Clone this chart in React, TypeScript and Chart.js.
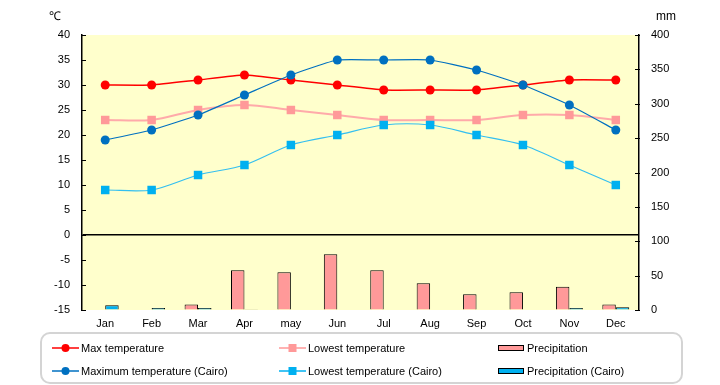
import React, { useEffect, useRef } from "react";
import { Chart, registerables } from "chart.js";

Chart.register(...registerables);

const months = ["Jan", "Feb", "Mar", "Apr", "may", "Jun", "Jul", "Aug", "Sep", "Oct", "Nov", "Dec"];
const maxTemp = [30, 30, 31, 32, 31, 30, 29, 29, 29, 30, 31, 31];
const lowTemp = [23, 23, 25, 26, 25, 24, 23, 23, 23, 24, 24, 23];
const cairoMax = [19, 21, 24, 28, 32, 35, 35, 35, 33, 30, 26, 21];
const cairoLow = [9, 9, 12, 14, 18, 20, 22, 22, 20, 18, 14, 10];
const precip = [0, 0, 8, 58, 55, 81, 58, 39, 23, 26, 34, 8];
const cairoPrecip = [7, 3, 3, 1, 0, 0, 0, 0, 0, 0, 3, 4];

const FONT = '"Liberation Sans", Arial, sans-serif';
const tickFont = { family: FONT, size: 11 };

const bgPlugin = {
  id: "bgPlugin",
  beforeDraw(chart: any) {
    const { ctx, chartArea } = chart;
    ctx.save();
    ctx.fillStyle = "#fff";
    ctx.fillRect(0, 0, chart.width, chart.height);
    ctx.fillStyle = "#FFFFCC";
    ctx.fillRect(chartArea.left, chartArea.top, chartArea.right - chartArea.left, chartArea.bottom - chartArea.top);
    ctx.restore();
  },
  afterDraw(chart: any) {
    const { ctx, chartArea, scales } = chart;
    ctx.save();
    ctx.strokeStyle = "#000";
    ctx.lineWidth = 1;
    const y = scales.y;
    y.ticks.forEach((t: any) => {
      const py = Math.round(y.getPixelForValue(t.value)) + 0.5;
      ctx.beginPath();
      ctx.moveTo(chartArea.left - 1, py);
      ctx.lineTo(chartArea.left + 4, py);
      ctx.stroke();
    });
    const y1 = scales.y1;
    y1.ticks.forEach((t: any) => {
      const py = Math.round(y1.getPixelForValue(t.value)) + 0.5;
      ctx.beginPath();
      ctx.moveTo(chartArea.right - 4, py);
      ctx.lineTo(chartArea.right + 1, py);
      ctx.stroke();
    });
    ctx.fillStyle = "#000";
    ctx.font = `12px ${FONT}`;
    ctx.textAlign = "center";
    ctx.textBaseline = "middle";
    ctx.fillText("℃", chartArea.left - 27, 17);
    ctx.fillText("mm", chartArea.right + 27, 17);
    ctx.restore();
  },
};

function LegendLine({ color, shape }: { color: string; shape: string }) {
  return (
    <svg width={27} height={12} style={{ display: "block" }}>
      <line x1={0} y1={6} x2={27} y2={6} stroke={color} strokeWidth={1.5} />
      {shape === "circle" ? (
        <circle cx={13.5} cy={6} r={4} fill={color} />
      ) : (
        <rect x={9.5} y={2} width={8} height={8} fill={color} />
      )}
    </svg>
  );
}

function LegendBar({ color }: { color: string }) {
  return (
    <svg width={27} height={12} style={{ display: "block" }}>
      <rect x={0.5} y={3.5} width={25} height={5} fill={color} stroke="#000" strokeWidth={1} />
    </svg>
  );
}

const legendItems = [
  { label: "Max temperature", kind: "line", color: "#FF0000", shape: "circle", x: 52, y: 348 },
  { label: "Lowest temperature", kind: "line", color: "#FF9999", shape: "rect", x: 279, y: 348 },
  { label: "Precipitation", kind: "bar", color: "#FF9999", shape: "", x: 498, y: 348 },
  { label: "Maximum temperature (Cairo)", kind: "line", color: "#0070C0", shape: "circle", x: 52, y: 371 },
  { label: "Lowest temperature (Cairo)", kind: "line", color: "#00B0F0", shape: "rect", x: 279, y: 371 },
  { label: "Precipitation (Cairo)", kind: "bar", color: "#00B0F0", shape: "", x: 498, y: 371 },
];

export default function App() {
  const ref = useRef<HTMLCanvasElement | null>(null);

  useEffect(() => {
    document.body.style.margin = "0";
    if (!ref.current) return;
    const chart = new Chart(ref.current, {
      type: "bar",
      data: {
        labels: months,
        datasets: [
          {
            type: "line",
            label: "Max temperature",
            data: maxTemp,
            yAxisID: "y",
            borderColor: "#FF0000",
            backgroundColor: "#FF0000",
            borderWidth: 1.5,
            pointBorderWidth: 0,
            pointStyle: "circle",
            pointRadius: 4.5,
            tension: 0.15,
            order: 2,
          },
          {
            type: "line",
            label: "Lowest temperature",
            data: lowTemp,
            yAxisID: "y",
            borderColor: "#FFAAAA",
            backgroundColor: "#FF9999",
            borderWidth: 2,
            pointBorderWidth: 0,
            pointStyle: "rect",
            pointRadius: 6,
            tension: 0.3,
            order: 4,
          },
          {
            type: "line",
            label: "Maximum temperature (Cairo)",
            data: cairoMax,
            yAxisID: "y",
            borderColor: "#0070C0",
            backgroundColor: "#0070C0",
            borderWidth: 1.2,
            pointBorderWidth: 0,
            pointStyle: "circle",
            pointRadius: 4.5,
            tension: 0.15,
            order: 1,
          },
          {
            type: "line",
            label: "Lowest temperature (Cairo)",
            data: cairoLow,
            yAxisID: "y",
            borderColor: "#33BFF0",
            backgroundColor: "#00B0F0",
            borderWidth: 1.2,
            pointBorderWidth: 0,
            pointStyle: "rect",
            pointRadius: 6,
            tension: 0.3,
            order: 3,
          },
          {
            type: "bar",
            label: "Precipitation",
            data: precip,
            yAxisID: "y1",
            backgroundColor: "#FF9999",
            borderColor: "#000",
            borderWidth: 1,
            barPercentage: 1,
            categoryPercentage: 0.58,
            order: 10,
          },
          {
            type: "bar",
            label: "Precipitation (Cairo)",
            data: cairoPrecip,
            yAxisID: "y1",
            backgroundColor: "#00B0F0",
            borderColor: "#000",
            borderWidth: 1,
            barPercentage: 1,
            categoryPercentage: 0.58,
            order: 11,
          },
        ] as any,
      },
      options: {
        responsive: false,
        animation: false,
        layout: { padding: { left: 0, right: 0, top: 35, bottom: 0 } },
        plugins: { legend: { display: false }, tooltip: { enabled: false } },
        scales: {
          x: {
            grid: { display: false, drawTicks: false },
            border: { display: false },
            ticks: { font: tickFont, color: "#000", padding: 7 },
            afterFit: (s: any) => {
              s.height = 75;
            },
          },
          y: {
            position: "left",
            min: -15,
            max: 40,
            ticks: { stepSize: 5, font: tickFont, color: "#000", padding: 12 },
            grid: {
              drawTicks: false,
              color: (c: any) => (c.tick && c.tick.value === 0 ? "#000" : "rgba(0,0,0,0)"),
              lineWidth: 1.5,
            },
            border: { color: "#000", width: 1.5 },
            afterFit: (s: any) => {
              s.width = 82;
            },
          },
          y1: {
            position: "right",
            min: 0,
            max: 400,
            ticks: { stepSize: 50, font: tickFont, color: "#000", padding: 12 },
            grid: { drawOnChartArea: false, drawTicks: false },
            border: { color: "#000", width: 1.5 },
            afterFit: (s: any) => {
              s.width = 81;
            },
          },
        },
      } as any,
      plugins: [bgPlugin],
    });
    return () => chart.destroy();
  }, []);

  return (
    <div style={{ position: "fixed", left: 0, top: 0, width: 720, height: 385, background: "#fff" }}>
      <canvas ref={ref} width={720} height={385} style={{ position: "absolute", left: 0, top: 0 }} />
      <div
        style={{
          position: "absolute",
          left: 40,
          top: 332,
          width: 639,
          height: 48,
          border: "2px solid #D4D4D4",
          borderRadius: 10,
        }}
      />
      {legendItems.map((it) => (
        <div
          key={it.label}
          style={{
            position: "absolute",
            left: it.x,
            top: it.y - 8,
            height: 16,
            display: "flex",
            alignItems: "center",
            fontFamily: FONT,
            fontSize: 11,
            color: "#000",
            whiteSpace: "nowrap",
          }}
        >
          {it.kind === "line" ? <LegendLine color={it.color} shape={it.shape} /> : <LegendBar color={it.color} />}
          <span style={{ marginLeft: 2 }}>{it.label}</span>
        </div>
      ))}
    </div>
  );
}
